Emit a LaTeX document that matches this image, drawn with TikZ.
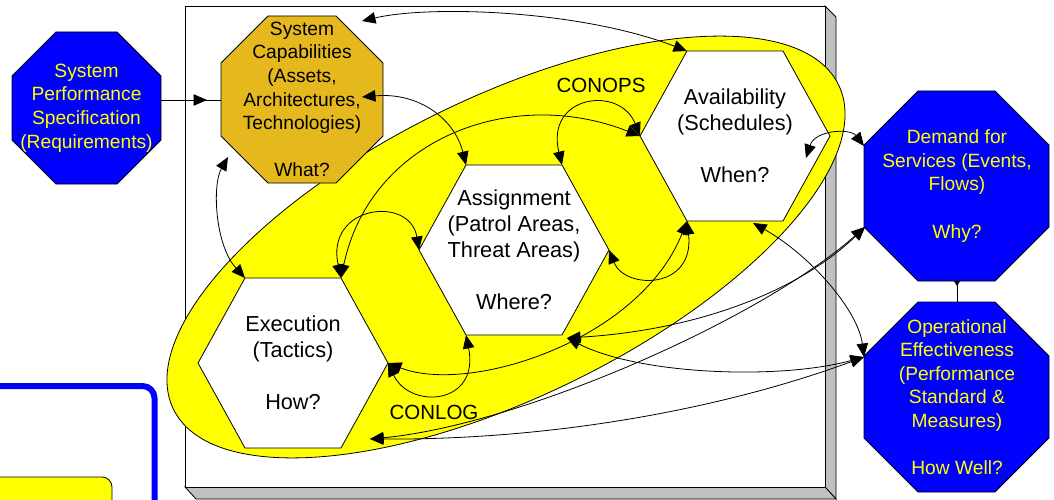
\documentclass[tikz,border=0pt]{standalone}
\usepackage{fontspec}
\setmainfont{Liberation Sans}
\usetikzlibrary{arrows.meta}
\definecolor{vblue}{RGB}{0,0,255}
\definecolor{vyellow}{RGB}{255,255,0}
\definecolor{vgold}{RGB}{229,184,30}
\definecolor{vgrey}{RGB}{192,192,192}
\tikzset{
  thinline/.style={line width=0.8pt, draw=black},
  boxside/.style={fill=vgrey, draw=black, line width=0.8pt},
  hexbox/.style={fill=white, draw=black, line width=0.8pt},
  octblue/.style={fill=vblue, draw=black, line width=0.8pt},
  octgold/.style={fill=vgold, draw=black, line width=0.8pt},
  octtext/.style={align=center, inner sep=0pt, font=\fontsize{19.2}{23.6}\selectfont},
  hextext/.style={align=center, inner sep=0pt, font=\fontsize{21.7}{26}\selectfont},
  labeltext/.style={inner sep=0pt, font=\fontsize{20.5}{24}\selectfont},
  tipshape/.tip={Triangle[length=13.5pt,width=11.5pt]},
  conn/.style={line width=0.8pt, draw=black, tipshape-tipshape},
}
\newcommand\myhex[3]{%
  \filldraw[hexbox] ({#2+95},#3) coordinate (#1-r) -- ({#2+48},{#3-85}) coordinate (#1-tr)
   -- ({#2-48},{#3-85}) coordinate (#1-tl) -- ({#2-95},#3) coordinate (#1-l)
   -- ({#2-48},{#3+85}) coordinate (#1-bl) -- ({#2+48},{#3+85}) coordinate (#1-br) -- cycle;}
\newcommand\myocta[6]{%
  \filldraw[#6] ({#1+#5},#2) -- ({#3-#5},#2) -- (#3,{#2+#5}) -- (#3,{#4-#5})
   -- ({#3-#5},#4) -- ({#1+#5},#4) -- (#1,{#4-#5}) -- (#1,{#2+#5}) -- cycle;}
\begin{document}
\begin{tikzpicture}[x=1pt,y=-1pt,line join=miter]
\useasboundingbox (0,0) rectangle (1054,500);
\clip (0,0) rectangle (1054,500);

% 3D frame
\filldraw[boxside] (825,6) -- (836,17) -- (836,499) -- (825,487) -- cycle;
\filldraw[boxside] (185,487) -- (825,487) -- (836,499) -- (196,499) -- cycle;
\filldraw[fill=white, thinline] (185,6) rectangle (825,487);

% legend fragments
\draw[vblue, line width=6pt, rounded corners=12pt] (-30,386) rectangle (154.5,560);
\filldraw[fill=vyellow, thinline, rounded corners=10pt] (-30,477) rectangle (112,560);

% ellipse
\filldraw[fill=vyellow, thinline, rotate around={26:(506,247)}] (506,247) ellipse [x radius=370, y radius=150];

% hexagons
\myhex{ex}{293}{363}
\myhex{as}{514}{250}
\myhex{av}{735}{136}

% octagons
\myocta{12}{32}{161}{184}{44}{octblue}
\myocta{221}{16}{383}{183}{47}{octgold}
\myocta{864}{91}{1049}{281}{54}{octblue}
\myocta{864}{302}{1049}{492}{54}{octblue}

% texts
\node[octtext, text=vyellow] (spec) at (86.5,108) {System\\Performance\\Specification\\(Requirements)};
\node[octtext, text=black] (gold) at (302,99.5) {System\\Capabilities\\(Assets,\\Architectures,\\Technologies)\\[23.6pt]What?};
\node[octtext, text=vyellow] (demand) at (957,186) {Demand for\\Services (Events,\\Flows)\\[23.6pt]Why?};
\node[octtext, text=vyellow] (oper) at (957,397) {Operational\\Effectiveness\\(Performance\\Standard \&\\Measures)\\[23.6pt]How Well?};
\node[hextext] (execution) at (293,363) {Execution\\(Tactics)\\[26pt]How?};
\node[hextext] (assignment) at (514,250) {Assignment\\(Patrol Areas,\\Threat Areas)\\[26pt]Where?};
\node[hextext] (availability) at (735,136) {Availability\\(Schedules)\\[26pt]When?};
\node[labeltext] (conops) at (601,85) {CONOPS};
\node[labeltext] (conlog) at (434,412) {CONLOG};

% connector end points
\coordinate (spec-e) at (161,100);
\coordinate (gold-w) at (221,100);
\coordinate (gold-in) at (207,100);
\coordinate (gold-a) at (362,21);
\coordinate (gold-b) at (362,97);
\coordinate (gold-c) at (228,157);
\coordinate (dem-a) at (864,146);
\coordinate (dem-b) at (865,227);
\coordinate (dem-s) at (957,281);
\coordinate (op-n) at (957,302);
\coordinate (op-a) at (864,357);
\coordinate (ex-p) at (370,439);
\coordinate (as-p) at (567,338);
\coordinate (av-p) at (753,223);
\coordinate (av-q) at (806,158);

% connectors
\draw[thinline] (spec-e) -- (gold-w);
\draw[thinline, -tipshape] (spec-e) -- (gold-in);
\draw[conn] (gold-a) .. controls (430,5) and (580,10) .. (av-tl);
\draw[conn] (gold-b) .. controls (420,92) and (455,120) .. (as-tl);
\draw[conn] (gold-c) .. controls (212,185) and (215,245) .. (ex-tl);
\draw[conn] (as-tr) .. controls (545,95) and (620,85) .. (av-l);
\draw[conn] (ex-tr) .. controls (370,140) and (510,85) .. (av-l);
\draw[conn] (ex-tr) .. controls (325,205) and (410,195) .. (as-l);
\draw[conn] (ex-r) .. controls (410,410) and (480,405) .. (as-bl);
\draw[conn] (as-r) .. controls (625,290) and (695,290) .. (av-bl);
\draw[conn] (ex-r) .. controls (470,395) and (640,340) .. (av-bl);
\draw[conn] (av-q) .. controls (815,130) and (850,128) .. (dem-a);
\draw[conn] (as-p) .. controls (700,330) and (800,290) .. (dem-b);
\draw[conn] (ex-p) .. controls (520,425) and (760,320) .. (dem-b);
\draw[conn] (ex-p) .. controls (550,440) and (720,410) .. (op-a);
\draw[conn] (as-p) .. controls (640,375) and (780,380) .. (op-a);
\draw[conn] (av-p) .. controls (810,255) and (858,310) .. (op-a);
\draw[thinline, {Triangle[reversed,length=5pt,width=6pt]}-] (dem-s) -- (op-n);
\end{tikzpicture}
\end{document}
